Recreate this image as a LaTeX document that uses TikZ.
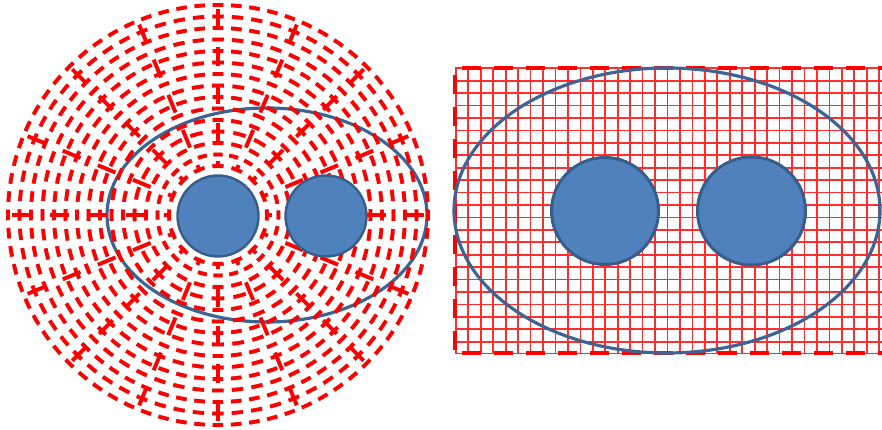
\documentclass[tikz,border=0pt]{standalone}
\usetikzlibrary{calc}
\definecolor{ringred}{RGB}{255,0,0}
\definecolor{gridred}{RGB}{255,45,45}
\definecolor{diskfill}{RGB}{79,129,189}
\definecolor{diskedge}{RGB}{56,93,138}
\definecolor{ellblue}{RGB}{62,100,148}
\tikzset{
  ringline/.style={ringred, line width=3.8pt},
  shadowline/.style={black, opacity=0.25, line width=4pt},
  spokeline/.style={dash pattern=on 19pt off 19pt},
  disk/.style={circle, fill=diskfill, draw=diskedge, inner sep=0pt},
  outline/.style={draw=ellblue, line width=3.2pt},
  gridline/.style={gridred, line width=1.7pt},
  borderline/.style={ringred, line width=4pt, dash pattern=on 19pt off 13pt, dash phase=25pt},
}
\newcommand{\polarwheel}[1]{%
  \foreach \k in {0,...,14}{%
    \pgfmathsetmacro{\rr}{210-11.5*\k}%
    \pgfmathsetmacro{\nm}{max(1,round(2*pi*\rr/152))}%
    \pgfmathsetmacro{\pp}{2*pi*\rr/(8*\nm)}%
    \pgfmathsetmacro{\don}{0.58*\pp}%
    \pgfmathsetmacro{\doff}{0.42*\pp}%
    \pgfmathsetmacro{\dph}{0.29*\pp}%
    \draw[#1, dash pattern=on \don pt off \doff pt, dash phase=\dph pt] (pc) circle[radius=\rr pt];
  }%
  \foreach \a in {0,22.5,...,337.5}{%
    \draw[#1, spokeline] ([shift={(\a:206pt)}]pc) -- ([shift={(\a:47pt)}]pc);
  }%
}
\begin{document}
\begin{tikzpicture}[x=1pt,y=-1pt]
\useasboundingbox (0,0) rectangle (882,430);
% ---------- left picture ----------
\coordinate (pc) at (218,215);
\draw[outline] (267,215) ellipse[x radius=160pt, y radius=107pt];
\begin{scope}[shift={(1.8pt,-2.2pt)}]
  \polarwheel{shadowline}
\end{scope}
\polarwheel{ringline}
\node[disk, minimum size=81pt, line width=2.4pt] (la) at (218,216) {};
\node[disk, minimum size=81pt, line width=2.4pt] (lb) at (326,216) {};
% ---------- right picture ----------
\begin{scope}
  \clip (455,68) rectangle (882,353.5);
  \foreach \i in {-1,...,34}{\draw[gridline] (468.3+12.45*\i,60) -- (468.3+12.45*\i,360);}
  \foreach \j in {-1,...,22}{\draw[gridline] (450,80.7+12.43*\j) -- (890,80.7+12.43*\j);}
\end{scope}
\coordinate (tl) at (455,68);
\coordinate (tr) at (882,68);
\coordinate (bl) at (455,353);
\coordinate (br) at (882,353);
\draw[borderline] (tl) -- (tr);
\draw[borderline] (tl) -- (bl);
\draw[borderline] (bl) -- (br);
\draw[outline] (667,210.5) ellipse[x radius=213pt, y radius=142.5pt];
\node[disk, minimum size=107pt, line width=3pt] (ra) at (605,211) {};
\node[disk, minimum size=108pt, line width=3pt] (rb) at (751.5,211) {};
\end{tikzpicture}
\end{document}
